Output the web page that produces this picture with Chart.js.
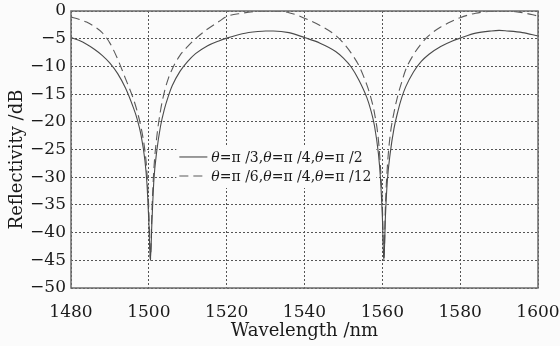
<!DOCTYPE html>
<html>
<head>
<meta charset="utf-8">
<script src="https://cdn.jsdelivr.net/npm/chart.js@4/dist/chart.umd.min.js"></script>
<style>
  html, body { margin: 0; padding: 0; background: #fbfbfb; }
  #wrap { width: 560px; height: 346px; position: relative; }
</style>
</head>
<body>
<div id="wrap"><canvas id="c" width="560" height="346"></canvas></div>
<script>
// Wavelength samples (nm), denser around the two reflection nulls
const wavelengths = [
  1480, 1482, 1484, 1486, 1488, 1490, 1492, 1494, 1496, 1497, 1498, 1499, 1499.5, 1500, 1500.4,
  1500.8, 1501.3, 1502, 1503, 1504, 1505, 1506, 1508, 1510, 1512, 1515, 1518, 1520, 1524, 1528,
  1530, 1532, 1536, 1540, 1544, 1548, 1550, 1552, 1554, 1556, 1557, 1558, 1559, 1559.5, 1560,
  1560.4, 1560.8, 1561.3, 1562, 1563, 1564, 1565, 1566, 1568, 1570, 1572, 1575, 1578, 1580, 1584,
  1588, 1590, 1592, 1596, 1600
];

// Reflectivity (dB): θ=π/3, θ=π/4, θ=π/2
const reflSolid = [
  -4.8, -5.3, -6.0, -6.9, -8.0, -9.4, -11.3, -13.9, -17.4, -19.5, -22.4, -27.0, -31, -38, -45,
  -38, -30.5, -25.5, -20.8, -17.7, -15.4, -13.5, -10.9, -9.1, -7.7, -6.3, -5.4, -4.9, -4.1, -3.7,
  -3.6, -3.6, -3.9, -4.8, -5.8, -7.3, -8.5, -10.1, -12.5, -15.6, -17.8, -20.8, -25.8, -30, -37,
  -45, -37, -30.5, -25.8, -21.2, -18.1, -15.6, -13.7, -11.0, -9.1, -7.8, -6.4, -5.4, -4.9, -4.0,
  -3.6, -3.5, -3.6, -3.9, -4.5
];

// Reflectivity (dB): θ=π/6, θ=π/4, θ=π/12
const reflDashed = [
  -1.1, -1.5, -2.0, -2.8, -3.9, -5.8, -8.7, -12.2, -15.8, -18.1, -21.0, -25.3, -29, -36, -45,
  -36, -28.5, -23, -18, -14.6, -12.2, -10.5, -8.0, -6.4, -5.0, -3.3, -1.9, -1.0, -0.4, -0.05,
  0, 0, -0.3, -1.3, -2.6, -4.4, -5.8, -7.6, -9.9, -13.3, -15.5, -18.5, -23.3, -28, -35,
  -45, -35, -28, -22.5, -18.3, -15.2, -12.8, -10.6, -7.9, -5.9, -4.4, -2.9, -1.8, -1.2, -0.4,
  -0.05, 0, 0, -0.3, -0.9
];

const seriesLabels = ['θ=π /3,θ=π /4,θ=π /2', 'θ=π /6,θ=π /4,θ=π /12'];
const xTicks = [1480, 1500, 1520, 1540, 1560, 1580, 1600];
const yTicks = [0, -5, -10, -15, -20, -25, -30, -35, -40, -45, -50];
const yTitle = 'Reflectivity /dB';

const SERIF = '"DejaVu Serif", "Liberation Serif", serif';

const toPoints = (ys) => wavelengths.map((x, i) => ({ x, y: ys[i] }));

// Frame around the plotting area
const framePlugin = {
  id: 'frame',
  afterDatasetsDraw(chart) {
    const { ctx, chartArea: a } = chart;
    ctx.save();
    ctx.strokeStyle = '#6b6b6b';
    ctx.lineWidth = 1.5;
    ctx.setLineDash([]);
    ctx.strokeRect(a.left, a.top, a.right - a.left, a.bottom - a.top);
    ctx.restore();
  }
};

// Vertical axis title, set a little below the axis centre
const yTitlePlugin = {
  id: 'yTitle',
  afterDraw(chart) {
    const { ctx, chartArea: a } = chart;
    ctx.save();
    ctx.translate(17, (a.top + a.bottom) / 2 + 10);
    ctx.rotate(-Math.PI / 2);
    ctx.fillStyle = '#1a1a1a';
    ctx.font = '18px ' + SERIF;
    ctx.textAlign = 'center';
    ctx.textBaseline = 'middle';
    ctx.fillText(yTitle, 0, 0);
    ctx.restore();
  }
};

// In-plot legend with italic θ
const legendPlugin = {
  id: 'innerLegend',
  afterDatasetsDraw(chart) {
    const { ctx, chartArea: a } = chart;
    const x0 = a.left + (a.right - a.left) * 0.232;
    const y0 = a.top + (a.bottom - a.top) * 0.527;
    const rowH = 19;
    const boxW = 200, boxH = 42;
    ctx.save();
    ctx.fillStyle = '#fbfbfb';
    ctx.fillRect(x0 - 3, y0 - 11, boxW, boxH);
    chart.data.datasets.forEach((ds, i) => {
      const y = y0 + i * rowH;
      ctx.strokeStyle = ds.borderColor;
      ctx.lineWidth = 1.1;
      ctx.setLineDash(ds.borderDash || []);
      ctx.beginPath();
      ctx.moveTo(x0, y);
      ctx.lineTo(x0 + 28, y);
      ctx.stroke();
      ctx.setLineDash([]);
      let tx = x0 + 32;
      ctx.fillStyle = '#1a1a1a';
      ctx.textBaseline = 'middle';
      for (const ch of ds.label) {
        ctx.font = (ch === 'θ' ? 'italic ' : '') + '14px ' + SERIF;
        ctx.fillText(ch, tx, y + 1);
        tx += ctx.measureText(ch).width;
      }
    });
    ctx.restore();
  }
};

new Chart(document.getElementById('c'), {
  type: 'line',
  data: {
    datasets: [
      {
        label: seriesLabels[0],
        data: toPoints(reflSolid),
        borderColor: '#4a4a4a',
        borderWidth: 1.1,
        pointRadius: 0,
        cubicInterpolationMode: 'monotone',
        fill: false
      },
      {
        label: seriesLabels[1],
        data: toPoints(reflDashed),
        borderColor: '#5a5a5a',
        borderWidth: 1.1,
        borderDash: [9, 5],
        pointRadius: 0,
        cubicInterpolationMode: 'monotone',
        fill: false
      }
    ]
  },
  options: {
    responsive: false,
    animation: false,
    devicePixelRatio: 1,
    layout: { padding: { left: 0, right: 22, top: 11, bottom: 4 } },
    plugins: {
      legend: { display: false },
      tooltip: { enabled: false }
    },
    scales: {
      x: {
        type: 'linear',
        min: 1480,
        max: 1600,
        afterBuildTicks: (s) => { s.ticks = xTicks.map(v => ({ value: v })); },
        afterFit: (s) => { s.height = 54; s.paddingLeft = 0; s.paddingRight = 0; },
        grid: { color: '#555', lineWidth: 1, drawTicks: false, drawOnChartArea: true },
        border: { display: false, dash: [2, 2] },
        ticks: {
          color: '#1a1a1a',
          font: { family: SERIF, size: 17 },
          padding: 14,
          maxRotation: 0,
          callback: (v) => String(v)
        },
        title: {
          display: true,
          text: 'Wavelength /nm',
          color: '#1a1a1a',
          font: { family: SERIF, size: 18 },
          padding: { top: 0, bottom: 0 }
        }
      },
      y: {
        min: -50,
        max: 0,
        afterBuildTicks: (s) => { s.ticks = yTicks.map(v => ({ value: v })); },
        afterFit: (s) => { s.width = 71; s.paddingTop = 0; s.paddingBottom = 0; },
        grid: { color: '#555', lineWidth: 1, drawTicks: false },
        border: { display: false, dash: [2, 2] },
        ticks: {
          color: '#1a1a1a',
          font: { family: SERIF, size: 17 },
          padding: 5,
          callback: (v) => (v < 0 ? '\u2212' + Math.abs(v) : String(v))
        },
        title: { display: false }
      }
    }
  },
  plugins: [framePlugin, legendPlugin, yTitlePlugin]
});
</script>
</body>
</html>
